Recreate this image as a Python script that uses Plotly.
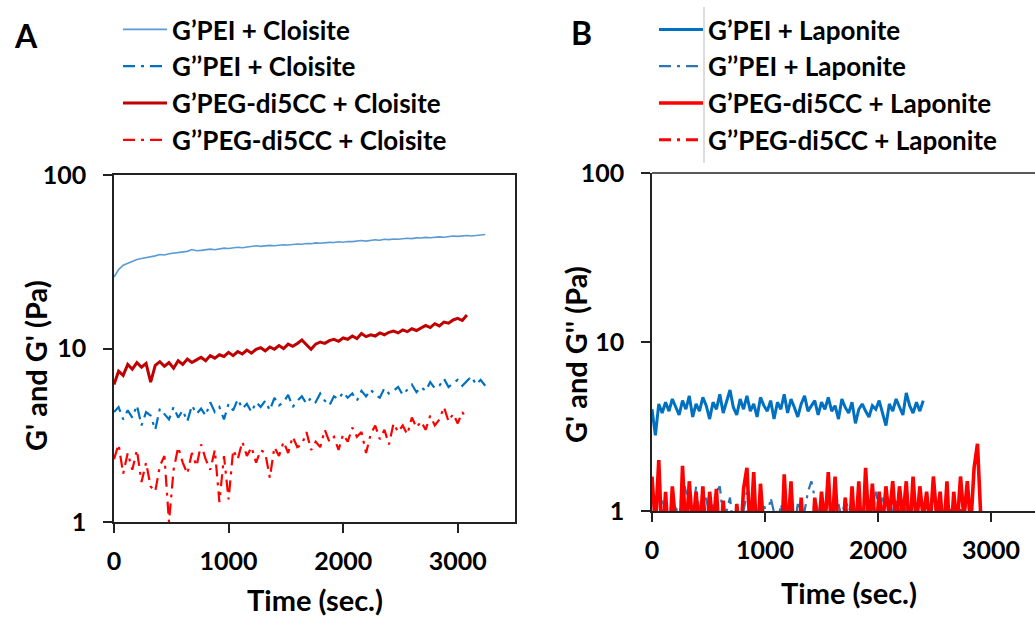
import plotly.graph_objects as go

# ---------------- DATA ----------------
# Panel A (Cloisite)
t_A_pei = [0, 40, 80, 120, 160, 200, 240, 280, 320, 360,
           400, 440, 480, 520, 560, 600, 640, 680, 720, 760,
           800, 840, 880, 920, 960, 1000, 1040, 1080, 1120, 1160,
           1200, 1240, 1280, 1320, 1360, 1400, 1440, 1480, 1520, 1560,
           1600, 1640, 1680, 1720, 1760, 1800, 1840, 1880, 1920, 1960,
           2000, 2040, 2080, 2120, 2160, 2200, 2240, 2280, 2320, 2360,
           2400, 2440, 2480, 2520, 2560, 2600, 2640, 2680, 2720, 2760,
           2800, 2840, 2880, 2920, 2960, 3000, 3040, 3080, 3120, 3160,
           3200, 3240]
g1_pei_cloisite = [25.8, 28.5, 30.2, 31.0, 31.8, 32.6, 33.0, 33.3, 33.9, 34.2,
                   34.8, 34.6, 35.2, 35.4, 35.6, 35.9, 36.3, 37.2, 36.6, 36.8,
                   37.0, 37.4, 37.1, 37.6, 37.9, 37.7, 38.0, 38.3, 38.1, 38.5,
                   38.7, 39.1, 38.8, 39.0, 39.3, 39.1, 39.4, 39.6, 39.5, 39.8,
                   40.0, 39.9, 40.3, 40.2, 40.6, 40.4, 40.7, 40.9, 40.8, 41.2,
                   41.0, 41.4, 41.3, 41.7, 41.9, 41.6, 42.0, 42.3, 42.1, 42.6,
                   42.4, 42.8, 42.6, 43.0, 43.2, 43.0, 43.4, 43.3, 43.7, 43.5,
                   43.8, 44.0, 43.8, 44.2, 44.5, 44.3, 44.6, 44.8, 44.5, 44.9,
                   45.2, 45.4]
g2_pei_cloisite = [4.3, 4.6, 3.9, 4.4, 4.0, 4.7, 3.6, 4.3, 4.1, 3.4,
                   4.5, 4.2, 3.9, 4.6, 4.0, 4.4, 3.8, 4.7, 4.2, 4.5,
                   4.1, 4.9, 4.3, 4.6, 3.9, 4.8, 4.4, 5.1, 4.5, 4.8,
                   4.3, 4.9, 4.6, 5.0, 4.4, 5.2, 4.7, 4.9, 5.4, 4.6,
                   5.0, 5.3, 4.8, 5.2, 4.9, 5.5, 5.0, 4.7, 5.3, 5.1,
                   5.6, 5.2, 5.5, 5.0, 5.7, 5.3, 5.8, 5.4, 5.2, 5.9,
                   5.5, 5.7, 6.0, 5.4, 5.8, 6.2, 5.6, 6.0, 5.7, 6.4,
                   5.9, 6.1, 6.7, 6.0, 6.3, 6.6, 6.1, 6.5, 6.9, 6.2,
                   6.6, 6.1]
t_A_peg = [0, 40, 80, 120, 160, 200, 240, 280, 320, 360,
           400, 440, 480, 520, 560, 600, 640, 680, 720, 760,
           800, 840, 880, 920, 960, 1000, 1040, 1080, 1120, 1160,
           1200, 1240, 1280, 1320, 1360, 1400, 1440, 1480, 1520, 1560,
           1600, 1640, 1680, 1720, 1760, 1800, 1840, 1880, 1920, 1960,
           2000, 2040, 2080, 2120, 2160, 2200, 2240, 2280, 2320, 2360,
           2400, 2440, 2480, 2520, 2560, 2600, 2640, 2680, 2720, 2760,
           2800, 2840, 2880, 2920, 2960, 3000, 3040, 3080]
g1_peg_cloisite = [6.2, 7.4, 7.0, 8.1, 7.6, 8.3, 7.8, 8.2, 6.4, 8.0,
                   8.4, 7.9, 8.3, 7.7, 8.5, 8.1, 8.7, 8.3, 8.6, 8.9,
                   8.5, 9.1, 8.8, 9.2, 9.0, 9.5, 9.1, 9.6, 9.3, 9.8,
                   9.4, 9.9, 10.1, 9.7, 10.2, 9.9, 10.4, 10.0, 10.6, 10.3,
                   10.7, 11.2, 10.5, 9.9, 10.6, 10.9, 10.7, 11.1, 11.3, 11.0,
                   11.5, 11.3, 11.8, 11.4, 12.2, 11.7, 12.0, 11.8, 12.3, 12.0,
                   12.4, 12.6, 12.3, 12.8, 12.5, 13.0, 12.7, 13.1, 13.6, 13.2,
                   13.9, 13.5, 14.2, 14.0, 14.6, 14.9, 14.5, 15.6]
g2_peg_cloisite = [2.3, 2.8, 1.9, 2.5, 2.0, 2.6, 1.7, 2.2, 1.6, 1.5,
                   2.1, 2.4, 1.0, 2.0, 2.7, 2.2, 1.9, 2.5, 2.1, 2.8,
                   2.3, 2.0, 2.6, 1.3, 2.4, 1.35, 2.6, 2.3, 2.9, 2.4,
                   2.7, 2.2, 2.6, 2.5, 1.8, 2.7, 2.4, 2.9, 2.5, 3.1,
                   2.7, 2.8, 3.3, 2.6, 2.9, 2.7, 3.4, 2.9, 3.1, 2.6,
                   3.2, 2.9, 3.5, 3.1, 3.3, 2.5, 3.2, 3.6, 3.0, 3.4,
                   2.8, 3.7, 3.3, 3.6, 3.2, 4.0, 3.5, 3.8, 3.4, 4.1,
                   3.6, 3.9, 4.6, 3.8, 4.2, 3.7, 4.3, 3.9]

# Panel B (Laponite)
t_B_pei = [0, 30, 60, 90, 120, 150, 180, 210, 240, 270,
           300, 330, 360, 390, 420, 450, 480, 510, 540, 570,
           600, 630, 660, 690, 720, 750, 780, 810, 840, 870,
           900, 930, 960, 990, 1020, 1050, 1080, 1110, 1140, 1170,
           1200, 1230, 1260, 1290, 1320, 1350, 1380, 1410, 1440, 1470,
           1500, 1530, 1560, 1590, 1620, 1650, 1680, 1710, 1740, 1770,
           1800, 1830, 1860, 1890, 1920, 1950, 1980, 2010, 2040, 2070,
           2100, 2130, 2160, 2190, 2220, 2250, 2280, 2310, 2340, 2370,
           2400]
g1_pei_laponite = [4.0, 2.8, 4.3, 3.8, 4.4, 3.9, 4.6, 4.1, 3.7, 4.5,
                   4.0, 4.8, 3.6, 4.3, 3.9, 4.7, 4.2, 3.5, 4.4, 4.0,
                   4.9, 3.8, 4.5, 5.2, 4.1, 3.7, 4.6, 4.0, 4.8, 3.9,
                   4.3, 3.6, 4.7, 4.2, 3.9, 4.5, 3.5, 4.4, 4.0, 4.9,
                   3.8, 4.6, 4.1, 3.6, 4.3, 4.8, 3.9, 4.2, 4.5, 3.7,
                   4.4, 4.0, 4.7, 3.9, 4.2, 3.5, 4.6, 4.1, 3.8, 4.4,
                   3.3, 4.0, 4.3, 3.9, 3.6, 4.2, 4.0, 4.5, 3.8, 3.2,
                   4.3, 3.9, 4.6, 4.1, 3.7, 5.0, 4.2, 3.8, 4.4, 3.9,
                   4.5]
g2_pei_laponite = [0.9, 1.1, 0.8, 1.2, 0.7, 1.0, 0.9, 1.1, 0.8, 1.6,
                   1.3, 1.2, 0.9, 1.4, 1.0, 0.8, 1.2, 0.9, 1.1, 1.3,
                   1.4, 0.9, 1.0, 1.2, 0.8, 1.1, 0.9, 1.0, 1.3, 0.9,
                   1.2, 1.0, 0.8, 1.1, 0.9, 1.2, 1.0, 0.8, 1.1, 0.9,
                   1.0, 1.2, 0.8, 1.1, 0.9, 1.0, 1.3, 1.5, 1.2, 1.0,
                   1.1, 0.9, 1.2, 1.0, 0.8, 1.1, 0.9, 1.2, 1.0, 1.1,
                   0.9, 1.2, 1.0, 0.8, 1.1, 0.9, 1.3, 1.0, 1.2, 0.9,
                   1.1, 1.0, 1.2, 0.9, 1.1, 1.0, 0.8, 1.2, 1.0, 1.1,
                   0.9]
t_B_peg = [0, 30, 60, 90, 120, 150, 180, 210, 240, 270,
           300, 330, 360, 390, 420, 450, 480, 510, 540, 570,
           600, 630, 660, 690, 720, 750, 780, 810, 840, 870,
           900, 930, 960, 990, 1020, 1050, 1080, 1110, 1140, 1170,
           1200, 1230, 1260, 1290, 1320, 1350, 1380, 1410, 1440, 1470,
           1500, 1530, 1560, 1590, 1620, 1650, 1680, 1710, 1740, 1770,
           1800, 1830, 1860, 1890, 1920, 1950, 1980, 2010, 2040, 2070,
           2100, 2130, 2160, 2190, 2220, 2250, 2280, 2310, 2340, 2370,
           2400, 2430, 2460, 2490, 2520, 2550, 2580, 2610, 2640, 2670,
           2700, 2730, 2760, 2790, 2820, 2850, 2880, 2910]
g1_peg_laponite = [1.6, 0.8, 2.0, 0.6, 1.3, 0.6, 1.4, 0.7, 0.5, 1.85,
                   0.7, 1.5, 0.8, 1.3, 0.7, 1.4, 0.6, 1.3, 0.8, 1.35,
                   0.6, 1.15, 0.5, 0.4, 0.5, 1.1, 0.6, 1.35, 1.8, 0.7,
                   1.7, 0.6, 1.45, 0.5, 0.4, 0.5, 0.6, 1.0, 0.5, 1.65,
                   0.7, 1.5, 0.6, 0.5, 1.2, 0.6, 0.4, 0.5, 1.2, 0.7,
                   1.3, 0.8, 1.7, 0.7, 1.6, 0.7, 0.5, 1.2, 0.6, 1.4,
                   0.7, 1.5, 0.6, 1.8, 0.8, 1.45, 0.7, 1.3, 0.8, 1.4,
                   0.9, 1.5, 0.8, 1.4, 0.9, 1.5, 0.7, 1.6, 0.8, 1.4,
                   0.9, 1.3, 0.8, 1.6, 0.9, 1.3, 0.7, 1.5, 0.6, 1.3,
                   0.8, 1.6, 0.9, 1.5, 0.8, 1.8, 2.5, 0.9]
t_B_peg2 = [0, 60, 120, 180, 240, 300, 360, 420, 480, 540,
            600, 660, 720, 780, 840, 900, 960, 1020, 1080, 1140,
            1200, 1260, 1320, 1380, 1440, 1500, 1560, 1620, 1680, 1740,
            1800, 1860, 1920, 1980, 2040, 2100, 2160, 2220, 2280, 2340,
            2400, 2460, 2520, 2580, 2640, 2700, 2760, 2820, 2880]
g2_peg_laponite = [0.9, 0.7, 1.0, 0.6, 0.8, 1.1, 0.7, 0.9, 0.6, 1.0,
                   0.5, 0.7, 0.6, 0.8, 1.0, 0.7, 0.9, 0.6, 0.8, 0.7,
                   1.0, 0.6, 0.8, 0.5, 0.9, 1.1, 0.8, 1.0, 0.7, 0.9,
                   1.0, 0.8, 1.1, 0.9, 1.0, 0.8, 1.1, 0.9, 1.0, 0.8,
                   1.0, 0.9, 1.1, 0.8, 1.0, 0.9, 1.1, 1.0, 0.8]

x_ticks = [0, 1000, 2000, 3000]
y_ticks = [1, 10, 100]
y_ticktext = ["1", "10", "100"]

names_A = ["G’PEI + Cloisite", "G’’PEI + Cloisite",
           "G’PEG-di5CC + Cloisite", "G’’PEG-di5CC + Cloisite"]
names_B = ["G’PEI + Laponite", "G’’PEI + Laponite",
           "G’PEG-di5CC + Laponite", "G’’PEG-di5CC + Laponite"]

# ---------------- FIGURE ----------------
W, H = 1035, 618
FONT = "Lato"
DASHDOT = "12px,6px,3px,6px"


def px(x):
    return x / W


def py(y):
    return 1 - y / H


fig = go.Figure()

specA = [
    (t_A_pei, g1_pei_cloisite, names_A[0], "#5B9BD5", 1.6, "solid"),
    (t_A_pei, g2_pei_cloisite, names_A[1], "#0070C0", 2.2, DASHDOT),
    (t_A_peg, g1_peg_cloisite, names_A[2], "#C00000", 3.0, "solid"),
    (t_A_peg, g2_peg_cloisite, names_A[3], "#FF0000", 2.2, DASHDOT),
]
for i, (tx, vy, nm, col, w, dash) in enumerate(specA):
    fig.add_trace(go.Scatter(x=tx, y=vy, name=nm, mode="lines",
                             line=dict(color=col, width=w, dash=dash),
                             xaxis="x", yaxis="y", legend="legend",
                             legendgroup="a%d" % i))

specB = [
    (t_B_pei, g1_pei_laponite, names_B[0], "#0070C0", 3.0, "solid"),
    (t_B_pei, g2_pei_laponite, names_B[1], "#2E75B6", 2.2, DASHDOT),
    (t_B_peg, g1_peg_laponite, names_B[2], "#FF0000", 3.6, "solid"),
    (t_B_peg2, g2_peg_laponite, names_B[3], "#FF0000", 3.0, DASHDOT),
]
for i, (tx, vy, nm, col, w, dash) in enumerate(specB):
    fig.add_trace(go.Scatter(x=tx, y=vy, name=nm, mode="lines",
                             line=dict(color=col, width=w, dash=dash),
                             xaxis="x2", yaxis="y2", legend="legend2",
                             legendgroup="b%d" % i))

tickfont = dict(family=FONT, size=25, color="black", weight=700)
axcol = "#222222"

common_x = dict(showline=True, linecolor=axcol, linewidth=1.5, ticks="outside",
                ticklen=9, tickwidth=1.5, tickcolor=axcol, tickvals=x_ticks,
                showgrid=False, zeroline=False, tickfont=tickfont,
                ticklabelstandoff=7, automargin=False)
common_y = dict(type="log", range=[0, 2], showline=True, linecolor=axcol,
                linewidth=1.5, ticks="outside", ticklen=9, tickwidth=1.5,
                tickcolor=axcol, tickvals=y_ticks, ticktext=y_ticktext,
                showgrid=False, zeroline=False, tickfont=tickfont,
                ticklabelstandoff=12, automargin=False)

legfont = dict(family=FONT, size=26, color="black", weight=700)

fig.update_layout(
    width=W, height=H,
    margin=dict(l=0, r=0, t=0, b=0, autoexpand=False),
    paper_bgcolor="white", plot_bgcolor="white",
    font=dict(family=FONT, color="black"),
    xaxis=dict(domain=[px(114), px(515)], range=[0, 3500], anchor="y",
               mirror=True, **common_x),
    yaxis=dict(domain=[py(522), py(175)], anchor="x", mirror=True, **common_y),
    xaxis2=dict(domain=[px(652), 1.0], range=[0, 3389], anchor="y2", **common_x),
    yaxis2=dict(domain=[py(511), py(173)], anchor="x2", **common_y),
    legend=dict(x=px(118), y=py(6), xanchor="left", yanchor="top",
                font=legfont, bgcolor="rgba(0,0,0,0)", itemwidth=44,
                traceorder="grouped", tracegroupgap=0),
    legend2=dict(x=px(654), y=py(6), xanchor="left", yanchor="top",
                 font=legfont, bgcolor="rgba(0,0,0,0)", itemwidth=44,
                 traceorder="grouped", tracegroupgap=0),
    showlegend=True,
)

# top frame line of panel B (right side is cut off in the original)
fig.add_shape(type="line", xref="x2 domain", yref="y2 domain",
              x0=0, x1=1, y0=1, y1=1, line=dict(color=axcol, width=1.5))
# thin grey separator line beside legend B
fig.add_shape(type="line", xref="paper", yref="paper",
              x0=px(704), x1=px(704), y0=py(7), y1=py(163),
              line=dict(color="#BBBBBB", width=1))

titlefont = dict(family=FONT, size=29, color="black", weight=700)
ann = [
    dict(text="A", x=px(26), y=py(35), font=dict(family=FONT, size=32, color="black", weight=700)),
    dict(text="B", x=px(581), y=py(33), font=dict(family=FONT, size=32, color="black", weight=700)),
    dict(text="G' and G' (Pa)", x=px(35), y=py(366), textangle=-90, font=titlefont),
    dict(text="G' and G'' (Pa)", x=px(575), y=py(355), textangle=-90, font=titlefont),
    dict(text="Time (sec.)", x=px(315), y=py(599), font=titlefont),
    dict(text="Time (sec.)", x=px(849), y=py(592), font=titlefont),
]
for a in ann:
    fig.add_annotation(xref="paper", yref="paper", showarrow=False,
                       xanchor="center", yanchor="middle", **a)

fig.write_html("out.html", config={"displayModeBar": False},
               post_script="document.body.style.margin='0px';")
